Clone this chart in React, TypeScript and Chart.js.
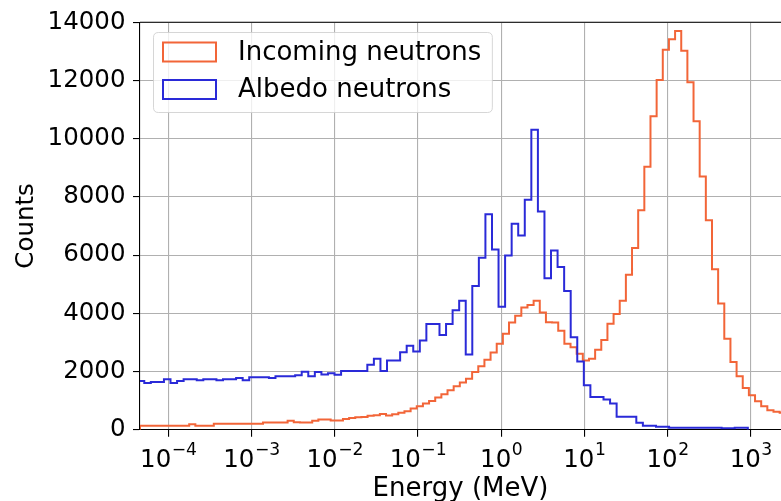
import React, { useEffect, useRef } from 'react';
import { Chart, registerables } from 'chart.js';

Chart.register(...registerables);

// ---- data ----
const SERIES_LABELS = ['Incoming neutrons', 'Albedo neutrons'];

// log10 of the first bin edge and the log10 bin width of each histogram
const INCOMING_LOG_EDGE0 = -4.34;
const INCOMING_LOG_BIN = 0.07392;
const ALBEDO_LOG_EDGE0 = -4.3676;
const ALBEDO_LOG_BIN = 0.07885;

const INCOMING_COUNTS = [
  135, 135, 135, 135, 135, 135, 135, 135, 185, 140,
  140, 140, 205, 205, 205, 205, 205, 205, 205, 205,
  250, 250, 250, 250, 305, 260, 245, 245, 305, 350,
  350, 320, 315, 370, 400, 430, 440, 480, 500, 540,
  490, 530, 580, 638, 730, 809, 900, 990, 1106, 1218,
  1355, 1490, 1618, 1750, 1980, 2180, 2400, 2650, 2950, 3300,
  3686, 3915, 4198, 4280, 4427, 4028, 3690, 3680, 3400, 2949,
  2833, 2608, 2379, 2437, 2744, 3085, 3640, 3972, 4427, 5320,
  6245, 7540, 9034, 10765, 12014, 13050, 13413, 13700, 13017, 11935,
  10600, 8700, 7198, 5513, 4340, 3121, 2324, 1834, 1435, 1185,
  980, 809, 672, 615, 580,
];

const ALBEDO_COUNTS = [
  1672, 1604, 1638, 1638, 1730, 1604, 1672, 1730, 1730, 1696,
  1730, 1730, 1696, 1730, 1730, 1775, 1696, 1798, 1798, 1798,
  1775, 1833, 1833, 1833, 1870, 1990, 1840, 1980, 1900, 1940,
  1890, 2014, 2014, 2014, 2014, 2230, 2437, 2020, 2379, 2379,
  2662, 2880, 2686, 3061, 3630, 3630, 3255, 3630, 4108, 4427,
  2584, 4938, 5905, 7406, 6191, 4222, 5985, 7078, 6669, 7898,
  10307, 7498, 5201, 6157, 5587, 4768, 3175, 2345, 1526, 1126,
  1126, 1038, 901, 444, 444, 444, 239, 137, 137, 102,
  102, 68, 68, 68, 68, 68, 68, 68, 68, 48,
  48, 68, 68,
];

const X_TICK_EXPONENTS = [-4, -3, -2, -1, 0, 1, 2, 3];
const X_LOG_MIN = -4.34;
const X_LOG_MAX = 3.364;
const Y_MIN = 0;
const Y_MAX = 14000;
const Y_STEP = 2000;

// ---- styles ----
const ORANGE = '#f26538';
const BLUE = '#2a2ad8';
const FONT_FAMILY = '"DejaVu Sans", "Liberation Sans", sans-serif';
const FONT_SIZE = 24.5;
const LABEL_SIZE = 26;
const W = 781;
const H = 501;
const PLOT_LEFT = 140;
const PLOT_TOP = 19.5;
const PLOT_BOTTOM = 429.7;

function stepPoints(counts: number[], log0: number, dlog: number) {
  const edge = (k: number) => Math.pow(10, log0 + k * dlog);
  const pts: { x: number; y: number }[] = [{ x: edge(0), y: 0 }];
  counts.forEach((c, k) => {
    pts.push({ x: edge(k), y: c });
    pts.push({ x: edge(k + 1), y: c });
  });
  pts.push({ x: edge(counts.length), y: 0 });
  return pts;
}

const supMap: Record<string, string> = { '-': '\u2212' };
function expText(e: number) {
  return String(e).split('').map((c) => supMap[c] ?? c).join('');
}

const mplPlugin = {
  id: 'mplExtras',
  afterDraw(chart: any) {
    const ctx = chart.ctx as CanvasRenderingContext2D;
    const area = chart.chartArea;
    const xs = chart.scales.x;
    ctx.save();
    // top spine
    ctx.strokeStyle = '#000';
    ctx.lineWidth = 1.1;
    ctx.beginPath();
    ctx.moveTo(area.left, area.top);
    ctx.lineTo(area.right, area.top);
    ctx.stroke();

    // x tick labels 10^n
    const base = `${FONT_SIZE}px ${FONT_FAMILY}`;
    const small = `${FONT_SIZE * 0.7}px ${FONT_FAMILY}`;
    ctx.fillStyle = '#000';
    ctx.textBaseline = 'alphabetic';
    ctx.textAlign = 'left';
    const baseY = area.bottom + 37.5;
    X_TICK_EXPONENTS.forEach((e) => {
      const px = xs.getPixelForValue(Math.pow(10, e));
      ctx.font = base;
      const w10 = ctx.measureText('10').width;
      ctx.font = small;
      const ex = expText(e);
      const we = ctx.measureText(ex).width;
      const start = px - (w10 + we) / 2;
      ctx.font = base;
      ctx.fillText('10', start, baseY);
      ctx.font = small;
      ctx.fillText(ex, start + w10 + 0.5, baseY - 12.5);
    });

    // legend
    ctx.font = `${LABEL_SIZE}px ${FONT_FAMILY}`;
    const items = [
      { label: SERIES_LABELS[0], color: ORANGE },
      { label: SERIES_LABELS[1], color: BLUE },
    ];
    const textX = 238;
    const rowY = [52, 89.5];
    const maxW = Math.max(...items.map((i) => ctx.measureText(i.label).width));
    const bl = 153.5, bt = 32.5, br = textX + maxW + 11, bb = 112.5, r = 5;
    ctx.beginPath();
    ctx.moveTo(bl + r, bt);
    ctx.lineTo(br - r, bt);
    ctx.quadraticCurveTo(br, bt, br, bt + r);
    ctx.lineTo(br, bb - r);
    ctx.quadraticCurveTo(br, bb, br - r, bb);
    ctx.lineTo(bl + r, bb);
    ctx.quadraticCurveTo(bl, bb, bl, bb - r);
    ctx.lineTo(bl, bt + r);
    ctx.quadraticCurveTo(bl, bt, bl + r, bt);
    ctx.closePath();
    ctx.fillStyle = 'rgba(255,255,255,0.8)';
    ctx.fill();
    ctx.strokeStyle = 'rgba(204,204,204,0.8)';
    ctx.lineWidth = 1;
    ctx.stroke();
    items.forEach((it, i) => {
      ctx.strokeStyle = it.color;
      ctx.lineWidth = 2;
      ctx.strokeRect(163, rowY[i] - 9.5, 53, 19);
      ctx.fillStyle = '#000';
      ctx.textBaseline = 'middle';
      ctx.fillText(it.label, textX, rowY[i] + 1);
    });
    ctx.restore();
  },
};

export default function App() {
  const canvasRef = useRef<HTMLCanvasElement | null>(null);

  useEffect(() => {
    const canvas = canvasRef.current;
    if (!canvas) return;
    const font = { family: FONT_FAMILY, size: FONT_SIZE };
    const yTicks: number[] = [];
    for (let v = Y_MIN; v <= Y_MAX; v += Y_STEP) yTicks.push(v);

    const chart = new Chart(canvas, {
      type: 'line',
      data: {
        datasets: [
          {
            label: SERIES_LABELS[1],
            data: stepPoints(ALBEDO_COUNTS, ALBEDO_LOG_EDGE0, ALBEDO_LOG_BIN),
            borderColor: BLUE,
            borderWidth: 2,
            pointRadius: 0,
            fill: false,
            tension: 0,
            order: 0,
            clip: 0,
          } as any,
          {
            label: SERIES_LABELS[0],
            data: stepPoints(INCOMING_COUNTS, INCOMING_LOG_EDGE0, INCOMING_LOG_BIN),
            borderColor: ORANGE,
            borderWidth: 2,
            pointRadius: 0,
            fill: false,
            tension: 0,
            order: 1,
            clip: 0,
          } as any,
        ],
      },
      options: {
        animation: false,
        responsive: false,
        maintainAspectRatio: false,
        devicePixelRatio: 1,
        layout: { padding: { left: 0, right: 0, top: PLOT_TOP, bottom: 0 } },
        plugins: { legend: { display: false }, tooltip: { enabled: false } },
        scales: {
          x: {
            type: 'logarithmic',
            position: 'bottom',
            min: Math.pow(10, X_LOG_MIN),
            max: Math.pow(10, X_LOG_MAX),
            afterBuildTicks: (s: any) => {
              s.ticks = X_TICK_EXPONENTS.map((e) => ({ value: Math.pow(10, e) }));
            },
            afterFit: (s: any) => {
              s.height = H - PLOT_BOTTOM;
            },
            ticks: { display: false },
            grid: {
              color: '#b0b0b0',
              lineWidth: 1.1,
              tickColor: '#000',
              tickLength: 7,
              tickWidth: 1.1,
            },
            border: { display: true, color: '#000', width: 1.1 },
            title: {
              display: true,
              text: 'Energy (MeV)',
              color: '#000',
              font: { family: FONT_FAMILY, size: LABEL_SIZE, lineHeight: 1 },
              padding: { top: 0, bottom: -1 },
            },
          },
          y: {
            type: 'linear',
            position: 'left',
            min: Y_MIN,
            max: Y_MAX,
            afterBuildTicks: (s: any) => {
              s.ticks = yTicks.map((v) => ({ value: v }));
            },
            afterFit: (s: any) => {
              s.width = PLOT_LEFT;
            },
            ticks: {
              color: '#000',
              font,
              padding: 7.5,
              callback: (v: any) => String(v),
            },
            grid: {
              color: '#b0b0b0',
              lineWidth: 1.1,
              tickColor: '#000',
              tickLength: 7,
              tickWidth: 1.1,
            },
            border: { display: true, color: '#000', width: 1.1 },
            title: {
              display: true,
              text: 'Counts',
              color: '#000',
              font: { ...font, lineHeight: 1 },
              padding: { top: 14.5, bottom: 0 },
            },
          },
        },
      } as any,
      plugins: [mplPlugin],
    });
    return () => chart.destroy();
  }, []);

  return (
    <div style={{ position: 'absolute', left: 0, top: 0, width: W, height: H, background: '#fff', overflow: 'hidden' }}>
      <canvas ref={canvasRef} width={W} height={H} style={{ width: W, height: H, display: 'block' }} />
    </div>
  );
}
